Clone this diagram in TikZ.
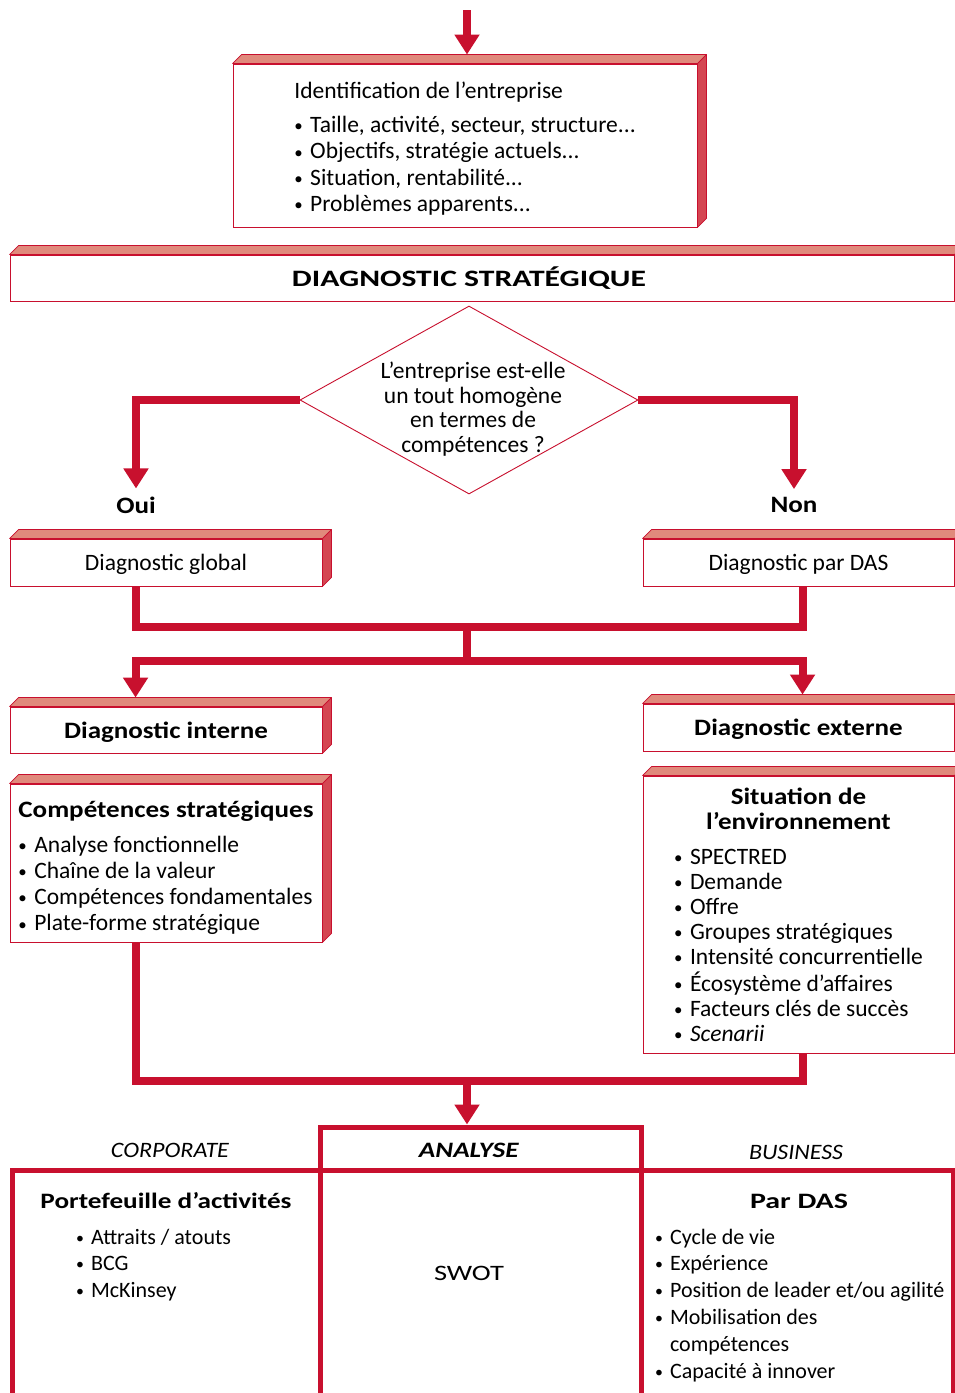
\documentclass[tikz,border=0pt]{standalone}
\usepackage{graphicx}
\usepackage{fontspec}
\setmainfont{Carlito}[BoldFeatures={FakeStretch=1.15},BoldItalicFeatures={FakeStretch=1.15}]
\usetikzlibrary{shapes.geometric,arrows.meta,calc}
\definecolor{crim}{RGB}{200,16,46}
\definecolor{topface}{RGB}{224,138,124}
\definecolor{sideface}{RGB}{212,70,82}
\newcommand{\bul}{\makebox[0.45em][l]{\raisebox{0.04em}{\scalebox{0.72}{•}}}}
\newcommand{\boxfaces}[1]{%
  \filldraw[fill=topface, draw=crim, line width=0.7pt, line join=round]
    (#1.north west) -- ++(9,-9) -- ($(#1.north east)+(9,-9)$) -- (#1.north east) -- cycle;
  \filldraw[fill=sideface, draw=crim, line width=0.7pt, line join=round]
    (#1.north east) -- ++(9,-9) -- ($(#1.south east)+(9,-9)$) -- (#1.south east) -- cycle;}
\begin{document}
\begin{tikzpicture}[x=1pt,y=-1pt,
  font=\fontsize{23.5}{26.3}\selectfont,
  frontbox/.style={draw=crim, line width=0.9pt, fill=white, inner sep=0pt, align=center},
  oneline/.style={text height=18pt, text depth=2pt},
  redline/.style={draw=crim, line width=8pt},
  redarrow/.style={redline, -{Triangle[width=24pt,length=20pt]}},
  cell/.style={draw=crim, line width=5pt, inner sep=0pt},
  tabfont/.style={font=\fontsize{22}{26.8}\selectfont, inner sep=0pt},
  bigbold/.style={font=\fontsize{23.5}{26.3}\selectfont\bfseries}]
\useasboundingbox (0,0) rectangle (955,1393);
\clip (0,0) rectangle (955,1393);

% ---------- boxes ----------
\node[frontbox, minimum width=464, minimum height=163, align=left] (id) at (465,145.5)
  {\rule{0pt}{22.5pt}Identification de l’entreprise\\[8.2pt]
   \bul{} Taille, activité, secteur, structure...\\
   \bul{} Objectifs, stratégie actuels...\\
   \bul{} Situation, rentabilité...\\
   \bul{} Problèmes apparents...};
\boxfaces{id}

\node[frontbox, minimum width=944, minimum height=46, text height=19pt, text depth=2pt] (ds) at (482,278)
  {\hspace*{-26pt}\resizebox{354pt}{\height}{\bfseries DIAGNOSTIC STRATÉGIQUE}};
\boxfaces{ds}

\node[diamond, draw=crim, line width=0.9pt, fill=white, minimum width=338, minimum height=188, inner sep=0pt,
  label={[align=center, font=\fontsize{23.5}{24.5}\selectfont, xshift=4pt, yshift=-9pt]center:L’entreprise est-elle\\un tout homogène\\en termes de\\compétences ?}] (q) at (469,400) {};

\node[bigbold, inner sep=0pt] (oui) at (136,505) {Oui};
\node[bigbold, inner sep=0pt] (non) at (794,505) {Non};

\node[frontbox, oneline, minimum width=312, minimum height=47] (gl) at (166,562.5) {Diagnostic global};
\boxfaces{gl}
\node[frontbox, oneline, minimum width=311, minimum height=47] (das) at (798.5,562.5) {Diagnostic par DAS};
\boxfaces{das}

\node[frontbox, oneline, minimum width=312, minimum height=46] (di) at (166,730) {\bfseries Diagnostic interne};
\boxfaces{di}
\node[frontbox, oneline, minimum width=311, minimum height=47] (de) at (798.5,727.5) {\bfseries Diagnostic externe};
\boxfaces{de}

\node[frontbox, minimum width=312, minimum height=158, align=left] (cs) at (166,863)
  {\rule{0pt}{26pt}\textbf{Compétences stratégiques}\\[8.7pt]
   \bul{} Analyse fonctionnelle\\
   \bul{} Chaîne de la valeur\\
   \bul{} Compétences fondamentales\\
   \bul{} Plate-forme stratégique};
\boxfaces{cs}

\node[frontbox, minimum width=311, minimum height=277, font=\fontsize{23.5}{25}\selectfont] (se) at (798.5,914.5)
  {\rule{0pt}{24pt}\textbf{Situation de}\\\textbf{l’environnement}\\[10pt]
   \begin{tabular}[t]{@{}l@{}}
   \bul{} SPECTRED\\
   \bul{} Demande\\
   \bul{} Offre\\
   \bul{} Groupes stratégiques\\
   \bul{} Intensité concurrentielle\\
   \bul{} Écosystème d'affaires\\
   \bul{} Facteurs clés de succès\\
   \bul{} \textit{Scenarii}
   \end{tabular}};
\boxfaces{se}

% ---------- table ----------
\node[cell, minimum width=308, minimum height=250] (cl) at (166,1295) {};
\node[cell, minimum width=321, minimum height=250] (cm) at (480.5,1295) {};
\node[cell, minimum width=312, minimum height=250] (cr) at (797,1295) {};
\node[cell, tabfont, minimum width=321, minimum height=43, text height=17pt, text depth=0pt] (an) at (480.5,1148.5)
  {\hspace*{-23pt}\resizebox{100pt}{\height}{\textbf{\textit{ANALYSE}}}};

\node[tabfont, anchor=base] (corp) at (170,1157) {\resizebox{118pt}{\height}{\itshape CORPORATE}};
\node[tabfont, anchor=base] (bus) at (796,1159) {\resizebox{94pt}{\height}{\itshape BUSINESS}};
\node[tabfont, anchor=base] (pf) at (166,1208) {\resizebox{251pt}{\height}{\bfseries Portefeuille d’activités}};
\node[tabfont, anchor=base west] (pfl) at (76,1244)
  {\begin{tabular}[t]{@{}l@{}}\bul{} Attraits / atouts\\\bul{} BCG\\\bul{} McKinsey\end{tabular}};
\node[tabfont, anchor=base] (swot) at (469,1280) {\resizebox{70pt}{\height}{SWOT}};
\node[tabfont, anchor=base] (pd) at (799,1208) {\resizebox{98pt}{\height}{\bfseries Par DAS}};
\node[tabfont, anchor=base west] (pdl) at (655,1244)
  {\begin{tabular}[t]{@{}l@{}}\bul{} Cycle de vie\\\bul{} Expérience\\\bul{} Position de leader et/ou agilité\\\bul{} Mobilisation des\\\phantom{\bul{} }compétences\\\bul{} Capacité à innover\end{tabular}};

% ---------- connectors ----------
\coordinate (topstart) at (467,10);
\draw[redarrow, shorten >=9pt] (topstart) -- (topstart |- id.north);

\draw[redarrow, shorten >=8pt] (q.west) -| (oui.north);
\draw[redarrow, shorten >=8pt] (q.east) -| (non.north);

\coordinate (hubA) at (467,627);
\coordinate (hubB) at (467,661);
\draw[redline] ([xshift=126pt]gl.south west) |- (hubA) -| ([xshift=160pt]das.south west);
\draw[redline] (hubA) -- (hubB);
\draw[redarrow, shorten >=9pt] (hubB) -| ([xshift=126pt]di.north west);
\draw[redarrow, shorten >=9pt] (hubB) -| ([xshift=160pt]de.north west);

\coordinate (hubC) at (467,1081);
\draw[redline] ([xshift=126pt]cs.south west) |- (hubC) -| ([xshift=160pt]se.south west);
\draw[redarrow] (hubC) -- (an.north -| hubC);
\end{tikzpicture}
\end{document}
